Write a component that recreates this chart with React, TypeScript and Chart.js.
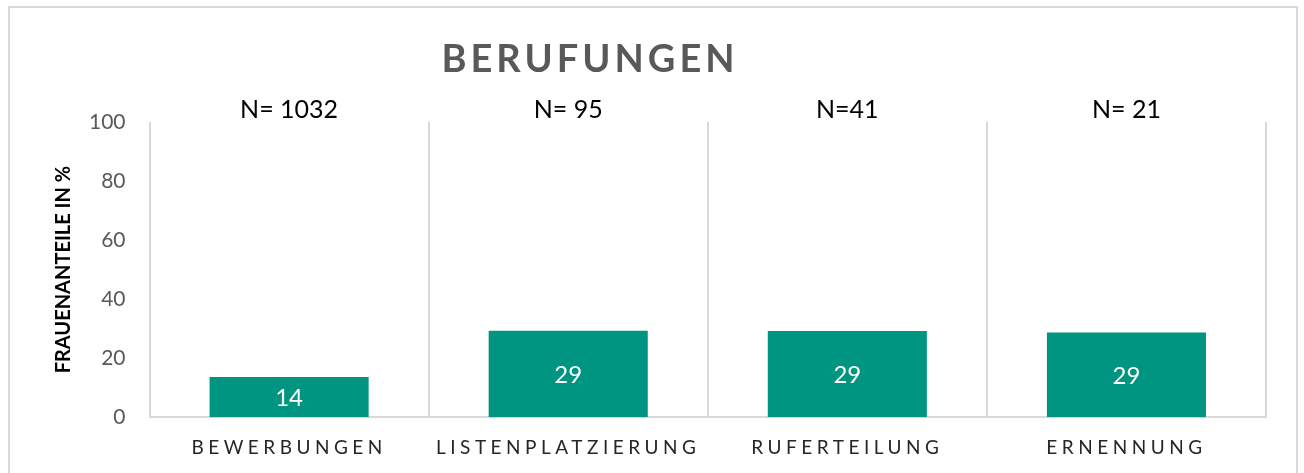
import React, { useEffect, useRef } from 'react';
import { Chart, registerables } from 'chart.js';

Chart.register(...registerables);

const categories = ['BEWERBUNGEN', 'LISTENPLATZIERUNG', 'RUFERTEILUNG', 'ERNENNUNG'];
const shares = [13.6, 29.3, 29.2, 28.7];
const barLabels = ['14', '29', '29', '29'];
const sampleSizes = ['N= 1032', 'N= 95', 'N=41', 'N= 21'];
const yTickValues = [0, 20, 40, 60, 80, 100];
const chartTitle = 'BERUFUNGEN';
const yAxisTitle = 'FRAUENANTEILE IN %';

const FONT = 'Lato, "Noto Sans", sans-serif';
const BAR_COLOR = '#009580';
const GRID_COLOR = '#d9d9d9';

const overlayPlugin = {
  id: 'overlayText',
  afterDatasetsDraw(chart: any) {
    const ctx = chart.ctx;
    const xScale = chart.scales.x;
    const area = chart.chartArea;
    // bar value labels
    const meta = chart.getDatasetMeta(0);
    ctx.save();
    ctx.fillStyle = '#ffffff';
    ctx.font = `24px ${FONT}`;
    ctx.textAlign = 'center';
    ctx.textBaseline = 'middle';
    meta.data.forEach((bar: any, i: number) => {
      ctx.fillText(barLabels[i], bar.x, (bar.y + bar.base) / 2 + 1);
    });
    ctx.restore();

    // sample sizes above each category
    ctx.save();
    ctx.fillStyle = '#000000';
    ctx.font = `25px ${FONT}`;
    ctx.textAlign = 'center';
    ctx.textBaseline = 'middle';
    sampleSizes.forEach((s, i) => {
      ctx.fillText(s, xScale.getPixelForValue(i), area.top - 12);
    });
    ctx.restore();

    // chart title
    ctx.save();
    ctx.fillStyle = '#595959';
    ctx.font = `bold 38px ${FONT}`;
    (ctx as any).letterSpacing = '4px';
    ctx.textAlign = 'center';
    ctx.textBaseline = 'middle';
    ctx.fillText(chartTitle, 590, 60);
    ctx.restore();
  },
};

const spacedLabelsPlugin = {
  id: 'spacedLabels',
  afterLayout(chart: any) {
    const s = chart.scales.x;
    if (s && !s.__spaced) {
      const orig = s.drawLabels.bind(s);
      s.drawLabels = (a: any) => {
        chart.ctx.save();
        chart.ctx.letterSpacing = '4.5px';
        orig(a);
        chart.ctx.restore();
      };
      s.__spaced = true;
    }
  },
};

export default function App() {
  const ref = useRef<HTMLCanvasElement | null>(null);
  useEffect(() => {
    if (!ref.current) return;
    const chart = new Chart(ref.current, {
      type: 'bar',
      data: {
        labels: categories,
        datasets: [
          {
            data: shares,
            backgroundColor: BAR_COLOR,
            barPercentage: 0.57,
            categoryPercentage: 1,
          },
        ],
      },
      options: {
        animation: false,
        responsive: false,
        layout: { padding: { left: 50, right: 38, top: 122, bottom: -5 } },
        plugins: { legend: { display: false }, tooltip: { enabled: false }, title: { display: false } },
        scales: {
          x: {
            grid: { offset: true, color: GRID_COLOR, lineWidth: 2, drawTicks: false },
            border: { display: true, color: GRID_COLOR, width: 2 },
            ticks: { color: '#262626', font: { family: FONT, size: 19 }, padding: 19, maxRotation: 0 },
          },
          y: {
            min: 0,
            max: 100,
            afterBuildTicks: (scale: any) => {
              scale.ticks = yTickValues.map((v) => ({ value: v }));
            },
            grid: { display: false, drawTicks: false },
            border: { display: false },
            ticks: { color: '#595959', font: { family: FONT, size: 21 }, padding: 24 },
            title: {
              display: true,
              text: yAxisTitle,
              color: '#000000',
              font: { family: FONT, size: 20, weight: 'bold' },
              padding: { top: 2, bottom: -11 },
            },
          },
        },
      },
      plugins: [overlayPlugin, spacedLabelsPlugin],
    });
    return () => chart.destroy();
  }, []);

  return (
    <div style={{ position: 'fixed', left: 0, top: 0, width: 1304, height: 473, background: '#fff', overflow: 'hidden' }}>
      <div
        style={{
          position: 'absolute',
          left: 8,
          top: 6,
          width: 1290,
          height: 520,
          border: `2px solid ${GRID_COLOR}`,
          boxSizing: 'border-box',
        }}
      />
      <canvas ref={ref} width={1304} height={473} style={{ position: 'absolute', left: 0, top: 0 }} />
    </div>
  );
}
